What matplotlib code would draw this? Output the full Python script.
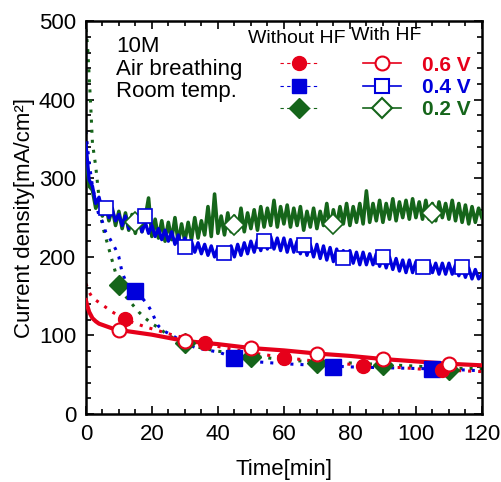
import matplotlib.pyplot as plt
from matplotlib.lines import Line2D
from matplotlib.ticker import MultipleLocator

plt.rcParams['font.family'] = ['Liberation Sans', 'DejaVu Sans']

RED = '#e6001a'
BLUE = '#0000dc'
GREEN = '#15651a'

# ---- With HF runs: noisy chronoamperometry, one reading per minute ----
t_hf = list(range(121))
blue_hf = [345, 298, 290, 268, 276, 258, 266, 250, 260, 246,
           254, 240, 252, 236, 250, 234, 248, 232, 244, 230,
           240, 226, 236, 222, 234, 220, 232, 216, 228, 212,
           224, 210, 220, 206, 218, 204, 216, 202, 214, 200,
           212, 200, 212, 198, 214, 200, 216, 202, 218, 204,
           220, 206, 222, 208, 226, 210, 226, 210, 224, 208,
           224, 206, 222, 206, 220, 204, 218, 202, 216, 200,
           216, 198, 214, 196, 212, 194, 210, 194, 208, 192,
           208, 192, 206, 190, 206, 190, 204, 190, 204, 188,
           202, 186, 200, 184, 198, 182, 196, 180, 196, 180,
           194, 180, 192, 180, 194, 180, 192, 178, 192, 178,
           192, 178, 190, 176, 188, 174, 186, 172, 184, 172,
           178]
green_hf = [330, 290, 285, 262, 272, 252, 266, 246, 262, 240,
            258, 236, 256, 234, 254, 230, 252, 232, 250, 275,
            226, 248, 224, 246, 220, 244, 222, 250, 218, 242,
            220, 244, 222, 250, 224, 246, 228, 264, 226, 280,
            230, 252, 228, 256, 232, 252, 234, 262, 232, 256,
            236, 260, 234, 264, 238, 262, 240, 272, 238, 264,
            242, 266, 238, 262, 240, 264, 234, 258, 238, 262,
            236, 258, 240, 268, 236, 260, 240, 264, 242, 268,
            240, 264, 244, 268, 242, 284, 244, 268, 246, 272,
            244, 268, 248, 274, 246, 270, 250, 272, 248, 274,
            250, 270, 248, 272, 248, 268, 246, 270, 250, 268,
            248, 272, 246, 268, 244, 266, 242, 264, 244, 262,
            250]
t_red_hf = [0, 0.5, 1, 2, 3, 4, 6, 8, 10, 15, 20, 25, 30, 40, 50, 60, 70, 80, 90, 100, 110, 120]
red_hf = [145, 137, 130, 122, 118, 115, 112, 109, 107, 104, 101, 97, 93, 89, 84, 81, 77, 74, 70, 67, 64, 62]

# ---- Without HF runs ----
t_red = [0, 1, 2, 4, 6, 8, 10, 12, 14, 18, 22, 26, 30, 33, 36, 40, 45, 50, 55, 60, 66, 72, 78, 84, 90, 96,
         102, 108, 114, 120]
red = [166, 155, 148, 142, 136, 130, 125, 121, 117, 111, 106, 101, 97, 93, 90, 86, 82, 78, 75, 72, 69, 66,
       64, 62, 60, 59, 57, 56, 55, 54]
t_blue = [0, 1, 2, 3, 4, 5, 6, 7, 8, 9, 10, 11, 12, 13, 14, 15, 16, 17, 18, 19, 20, 21, 22, 24, 27, 30, 33,
          36, 40, 45, 50, 60, 70, 80, 90, 100, 110, 120]
blue = [360, 320, 290, 270, 252, 245, 232, 225, 218, 210, 200, 180, 170, 165, 160, 157, 152, 148, 143, 137,
        130, 120, 112, 105, 98, 90, 85, 82, 79, 72, 67, 64, 62, 60, 59, 58, 57, 55]
t_green = [0, 0.5, 1, 1.5, 2, 3, 4, 5, 6, 7, 8, 10, 12, 14, 16, 18, 20, 22, 25, 30, 35, 40, 50, 60, 70, 80,
           90, 100, 110, 120]
green = [490, 470, 430, 390, 345, 315, 275, 240, 225, 210, 195, 165, 150, 140, 130, 122, 115, 110, 100, 90,
         84, 80, 74, 69, 66, 65, 63, 61, 58, 58]

# marker readings
mk_red_hf_t = [10, 30, 50, 70, 90, 110]
mk_red_hf_v = [107, 93, 84, 77, 70, 64]
mk_blue_hf_t = [6, 18, 30, 42, 54, 66, 78, 90, 102, 114]
mk_blue_hf_v = [262, 252, 212, 205, 220, 215, 198, 200, 187, 187]
mk_green_hf_t = [15, 45, 75, 105]
mk_green_hf_v = [244, 240, 242, 256]
mk_red_t = [12, 36, 60, 84, 108]
mk_red_v = [121, 90, 71, 61, 56]
mk_blue_t = [15, 45, 75, 105]
mk_blue_v = [157, 71, 60, 57]
mk_green_t = [10, 30, 50, 70, 90, 110]
mk_green_v = [164, 90, 73, 65, 63, 56]

fig, ax = plt.subplots(figsize=(5.02, 4.82), dpi=100)
fig.subplots_adjust(left=0.171, right=0.960, bottom=0.141, top=0.956)

dots = (0, (1, 2.3))
ax.plot(t_green, green, color=GREEN, lw=2.2, ls=dots, zorder=2)
ax.plot(t_blue, blue, color=BLUE, lw=2.2, ls=dots, zorder=2)
ax.plot(t_red, red, color=RED, lw=2.2, ls=dots, zorder=2)

ax.plot(t_hf, green_hf, color=GREEN, lw=2.6, zorder=3)
ax.plot(t_hf, blue_hf, color=BLUE, lw=2.4, zorder=3)
ax.plot(t_red_hf, red_hf, color=RED, lw=3.0, zorder=4)

ax.plot(mk_green_t, mk_green_v, 'D', color=GREEN, ms=10, ls='none', zorder=5)
ax.plot(mk_blue_t, mk_blue_v, 's', color=BLUE, ms=11, ls='none', zorder=5)
ax.plot(mk_red_t, mk_red_v, 'o', color=RED, ms=10, ls='none', zorder=5)

ax.plot(mk_green_hf_t, mk_green_hf_v, 'D', mfc='white', mec=GREEN, mew=1.2, ms=10, ls='none', zorder=6)
ax.plot(mk_blue_hf_t, mk_blue_hf_v, 's', mfc='white', mec=BLUE, mew=1.2, ms=10, ls='none', zorder=6)
ax.plot(mk_red_hf_t, mk_red_hf_v, 'o', mfc='white', mec=RED, mew=1.5, ms=10, ls='none', zorder=6)

ax.set_xlim(0, 120)
ax.set_ylim(0, 500)
ax.xaxis.set_major_locator(MultipleLocator(20))
ax.xaxis.set_minor_locator(MultipleLocator(5))
ax.yaxis.set_major_locator(MultipleLocator(100))
ax.yaxis.set_minor_locator(MultipleLocator(20))
ax.tick_params(which='both', direction='in', top=True, right=True, width=1.2, labelsize=16, pad=7)
ax.tick_params(which='major', length=6)
ax.tick_params(which='minor', length=3.5)
for sp in ax.spines.values():
    sp.set_linewidth(1.8)

ax.set_xlabel('Time[min]', fontsize=16, labelpad=10)
ax.set_ylabel('Current density[mA/cm²]', fontsize=16, labelpad=3)

ax.text(0.076, 0.962, '10M\nAir breathing\nRoom temp.', transform=ax.transAxes,
        fontsize=16, va='top', ha='left', linespacing=1.1)

# legend: left column without HF, right column with HF
handles = [
    Line2D([], [], color=RED, ls=(0, (3, 3)), lw=0.8, marker='o', ms=10),
    Line2D([], [], color=BLUE, ls=(0, (3, 3)), lw=0.8, marker='s', ms=10),
    Line2D([], [], color=GREEN, ls=(0, (3, 3)), lw=0.8, marker='D', ms=10),
    Line2D([], [], color=RED, lw=1.2, marker='o', ms=10, mfc='white', mew=1.5),
    Line2D([], [], color=BLUE, lw=1.2, marker='s', ms=10, mfc='white', mew=1.5),
    Line2D([], [], color=GREEN, lw=1.2, marker='D', ms=10, mfc='white', mew=1.5),
]
labels = ['', '', '', '0.6 V', '0.4 V', '0.2 V']
leg = ax.legend(handles, labels, ncol=2, loc='upper left', bbox_to_anchor=(0.49, 0.912),
                frameon=False, fontsize=15, borderpad=0, borderaxespad=0, handlelength=1.8,
                handletextpad=1.0, columnspacing=1.2, labelspacing=0.15)
for txt, c in zip(leg.get_texts()[3:], [RED, BLUE, GREEN]):
    txt.set_color(c)
    txt.set_fontweight('bold')

ax.text(0.533, 0.957, 'Without HF', transform=ax.transAxes, fontsize=14, ha='center', va='center')
ax.text(0.758, 0.964, 'With HF', transform=ax.transAxes, fontsize=14, ha='center', va='center')

fig.savefig('out.png')
